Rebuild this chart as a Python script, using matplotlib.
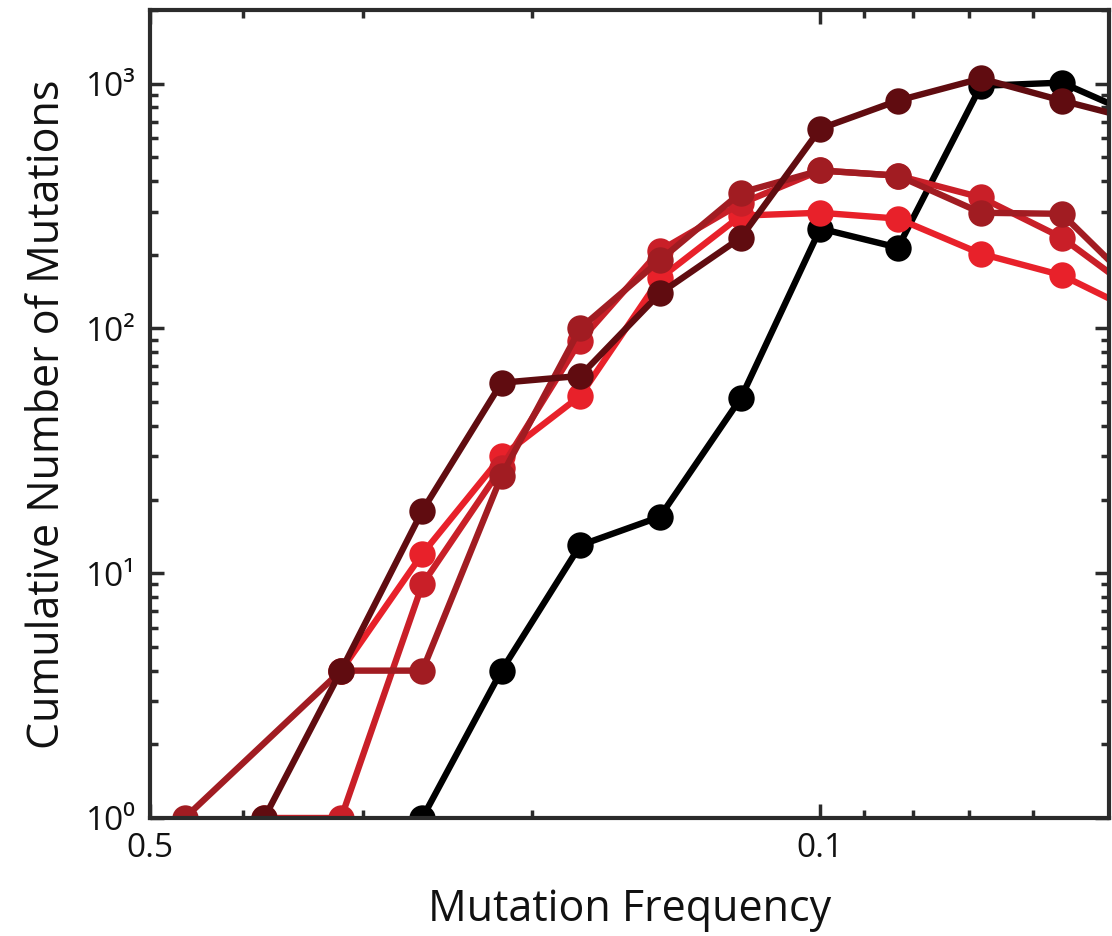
import numpy as np
import matplotlib
matplotlib.use("Agg")
import matplotlib.pyplot as plt
from matplotlib.ticker import FixedLocator, NullFormatter

# =========================
# DATA
# =========================
freq = [0.46, 0.38, 0.316, 0.26, 0.215, 0.178, 0.147, 0.121, 0.1, 0.083, 0.068, 0.056, 0.046]

nan = np.nan
black = [nan, nan, nan, 1, 4, 13, 17, 52, 256, 214, 980, 1010, 720]
bright = [nan, nan, 4, 12, 30, 53, 160, 289, 297, 281, 202, 165, 113]
red = [nan, 1, 1, 9, 27, 89, 208, 324, 442, 421, 343, 235, 133]
medium = [1, nan, 4, 4, 25, 100, 190, 359, 442, 421, 297, 294, 138]
dark = [nan, 1, 4, 18, 60, 64, 139, 235, 655, 853, 1050, 853, 700]

series = [black, bright, red, medium, dark]
colors = ["#000000", "#e8212a", "#c91f28", "#a11c22", "#600c10"]

xticks = [0.5, 0.1]
xtick_labels = ["0.5", "0.1"]
xminor = [0.4, 0.3, 0.2, 0.09, 0.08, 0.07, 0.06]
yticks = [1, 10, 100, 1000]
ytick_labels = ["10⁰", "10¹", "10²", "10³"]

# =========================
# FIGURE
# =========================
font = ["Open Sans", "DejaVu Sans"]
plt.rcParams["font.family"] = font

fig = plt.figure(figsize=(11.12, 9.36), dpi=100)
ax = fig.add_axes([150 / 1112, 1 - 818 / 936, (1109 - 150) / 1112, (818 - 10) / 936])

for ys, c in zip(series, colors):
    x = np.array(freq)
    y = np.array(ys, dtype=float)
    # medium series has a gap at 0.38 -> connect remaining points
    ok = ~np.isnan(y)
    ax.plot(x[ok], y[ok], "-o", color=c, lw=4.6, ms=19, mec=c, mew=0)

ax.set_xscale("log")
ax.set_yscale("log")
ax.set_xlim(0.5, 0.05)
ax.set_ylim(1, 2000)

ax.xaxis.set_major_locator(FixedLocator(xticks))
ax.set_xticklabels(xtick_labels)
ax.xaxis.set_minor_locator(FixedLocator(xminor))
ax.xaxis.set_minor_formatter(NullFormatter())

ax.yaxis.set_major_locator(FixedLocator(yticks))
ax.set_yticklabels(ytick_labels)
yminor = [m * 10 ** d for d in range(0, 4) for m in range(2, 10)]
ax.yaxis.set_minor_locator(FixedLocator(yminor))
ax.yaxis.set_minor_formatter(NullFormatter())

for s in ax.spines.values():
    s.set_linewidth(3)
    s.set_color("#2b2b2b")

ax.tick_params(which="both", direction="in", top=True, right=True,
               color="#2b2b2b", width=2.5, labelsize=24, labelcolor="#111111")
ax.tick_params(which="major", length=10, pad=10)
ax.tick_params(which="minor", length=6)

ax.set_xlabel("Mutation Frequency", fontsize=31, labelpad=16, color="#111111")
ax.set_ylabel("Cumulative Number of Mutations", fontsize=31, labelpad=12, color="#111111")

fig.savefig("out.png", dpi=100)
